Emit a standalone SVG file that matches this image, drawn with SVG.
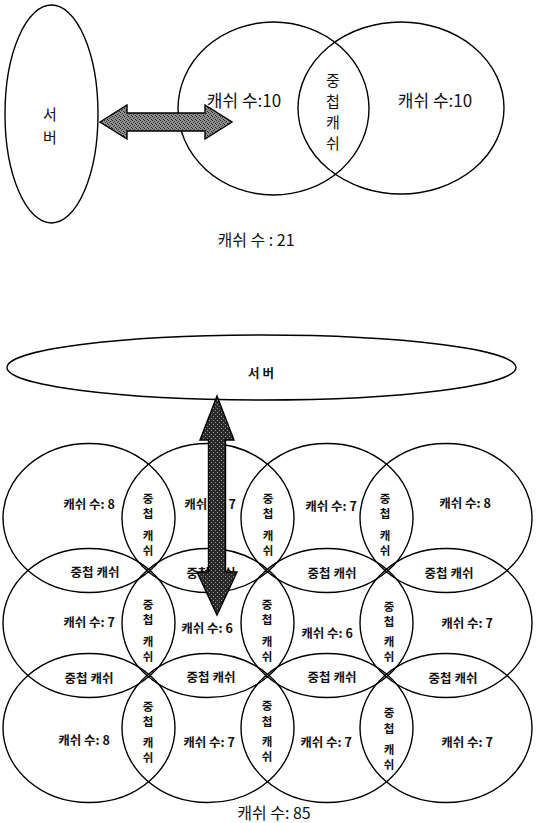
<svg xmlns="http://www.w3.org/2000/svg" width="536" height="823" viewBox="0 0 536 823">
<style>
.sh{fill:none;stroke:#000;stroke-width:1.4}
.t{font-family:"Noto Sans CJK KR","Noto Sans",sans-serif;fill:#111;text-anchor:middle}
.big{font-size:17px}
.bv{font-size:15px}
.sm{font-size:12.5px;font-weight:bold}
.vt{font-size:11.5px;font-weight:bold}
.tot{font-size:16px}
.ar{stroke:#000;stroke-width:1.4;stroke-linejoin:miter}
</style>
<defs>
<pattern id="stipA" width="4" height="4" patternUnits="userSpaceOnUse">
<rect width="4" height="4" fill="#8e8e8e"/>
<rect x="0" y="0" width="1" height="1" fill="#222"/>
<rect x="2" y="1" width="1" height="1" fill="#333"/>
<rect x="1" y="2" width="1" height="1" fill="#444"/>
<rect x="3" y="3" width="1" height="1" fill="#222"/>
</pattern>
<pattern id="stipB" width="4" height="4" patternUnits="userSpaceOnUse">
<rect width="4" height="4" fill="#2a2a2a"/>
<rect x="1" y="0" width="1" height="1" fill="#999"/>
<rect x="3" y="2" width="1" height="1" fill="#888"/>
</pattern>
</defs>

<!-- Top diagram -->
<g id="server1">
<ellipse class="sh" cx="51.5" cy="114" rx="46.5" ry="109"/>
<text class="t bv" x="50" y="120">서</text>
<text class="t bv" x="50" y="143">버</text>
</g>
<g id="cacheA">
<ellipse class="sh" cx="273.5" cy="108.5" rx="95.5" ry="86.5"/>
<text class="t big" x="244" y="106.5">캐쉬 수:10</text>
</g>
<g id="cacheB">
<ellipse class="sh" cx="401" cy="108" rx="103" ry="86"/>
<text class="t big" x="435" y="106.5">캐쉬 수:10</text>
</g>
<g id="overlap1">
<text class="t bv" x="333" y="86">중</text>
<text class="t bv" x="333" y="107">첩</text>
<text class="t bv" x="333" y="128">캐</text>
<text class="t bv" x="333" y="149">쉬</text>
</g>
<g id="total1">
<text class="t tot" x="256" y="246">캐쉬 수 : 21</text>
</g>

<!-- Bottom diagram -->
<g id="server2">
<ellipse class="sh" cx="261.5" cy="367.5" rx="254.5" ry="32.5"/>
<text class="t sm" x="261" y="378">서 버</text>
</g>

<g id="grid">
<ellipse id="c11" class="sh" cx="89" cy="518" rx="86" ry="74.5"/>
<ellipse id="c12" class="sh" cx="208" cy="518" rx="86" ry="74.5"/>
<ellipse id="c13" class="sh" cx="327" cy="518" rx="86" ry="74.5"/>
<ellipse id="c14" class="sh" cx="446" cy="518" rx="86" ry="74.5"/>
<ellipse id="c21" class="sh" cx="89" cy="623" rx="86" ry="74.5"/>
<ellipse id="c22" class="sh" cx="208" cy="623" rx="86" ry="74.5"/>
<ellipse id="c23" class="sh" cx="327" cy="623" rx="86" ry="74.5"/>
<ellipse id="c24" class="sh" cx="446" cy="623" rx="86" ry="74.5"/>
<ellipse id="c31" class="sh" cx="89" cy="728" rx="86" ry="74.5"/>
<ellipse id="c32" class="sh" cx="208" cy="728" rx="86" ry="74.5"/>
<ellipse id="c33" class="sh" cx="327" cy="728" rx="86" ry="74.5"/>
<ellipse id="c34" class="sh" cx="446" cy="728" rx="86" ry="74.5"/>
</g>

<g id="cell-labels">
<text class="t sm" x="89" y="509">캐쉬 수: 8</text>
<text class="t sm" x="210" y="509">캐쉬 수: 7</text>
<text class="t sm" x="331" y="511">캐쉬 수: 7</text>
<text class="t sm" x="465" y="508">캐쉬 수: 8</text>
<text class="t sm" x="89" y="627">캐쉬 수: 7</text>
<text class="t sm" x="207" y="633">캐쉬 수: 6</text>
<text class="t sm" x="327" y="638">캐쉬 수: 6</text>
<text class="t sm" x="467" y="628">캐쉬 수: 7</text>
<text class="t sm" x="84" y="745">캐쉬 수: 8</text>
<text class="t sm" x="209" y="747">캐쉬 수: 7</text>
<text class="t sm" x="326" y="747">캐쉬 수: 7</text>
<text class="t sm" x="467" y="747">캐쉬 수: 7</text>
</g>

<g id="h-overlaps">
<text class="t sm" x="95" y="577">중첩 캐쉬</text>
<text class="t sm" x="211" y="578">중첩 캐쉬</text>
<text class="t sm" x="332" y="578">중첩 캐쉬</text>
<text class="t sm" x="449" y="578">중첩 캐쉬</text>
<text class="t sm" x="89" y="683">중첩 캐쉬</text>
<text class="t sm" x="211" y="682">중첩 캐쉬</text>
<text class="t sm" x="332" y="682">중첩 캐쉬</text>
<text class="t sm" x="453" y="683">중첩 캐쉬</text>
</g>

<g id="v-overlaps">
<g id="v11"><text class="t vt" x="148" y="503">중</text><text class="t vt" x="148" y="518">첩</text><text class="t vt" x="148" y="540">캐</text><text class="t vt" x="148" y="555">쉬</text></g>
<g id="v12"><text class="t vt" x="268" y="503">중</text><text class="t vt" x="268" y="518">첩</text><text class="t vt" x="268" y="540">캐</text><text class="t vt" x="268" y="555">쉬</text></g>
<g id="v13"><text class="t vt" x="385" y="503">중</text><text class="t vt" x="385" y="518">첩</text><text class="t vt" x="385" y="540">캐</text><text class="t vt" x="385" y="555">쉬</text></g>
<g id="v21"><text class="t vt" x="148" y="609">중</text><text class="t vt" x="148" y="624">첩</text><text class="t vt" x="148" y="646">캐</text><text class="t vt" x="148" y="661">쉬</text></g>
<g id="v22"><text class="t vt" x="267" y="609">중</text><text class="t vt" x="267" y="624">첩</text><text class="t vt" x="267" y="646">캐</text><text class="t vt" x="267" y="661">쉬</text></g>
<g id="v23"><text class="t vt" x="389" y="611">중</text><text class="t vt" x="389" y="626">첩</text><text class="t vt" x="389" y="646">캐</text><text class="t vt" x="389" y="661">쉬</text></g>
<g id="v31"><text class="t vt" x="148" y="711">중</text><text class="t vt" x="148" y="726">첩</text><text class="t vt" x="148" y="747">캐</text><text class="t vt" x="148" y="762">쉬</text></g>
<g id="v32"><text class="t vt" x="267" y="710">중</text><text class="t vt" x="267" y="726">첩</text><text class="t vt" x="267" y="746">캐</text><text class="t vt" x="267" y="761">쉬</text></g>
<g id="v33"><text class="t vt" x="389" y="717">중</text><text class="t vt" x="389" y="733">첩</text><text class="t vt" x="389" y="754">캐</text><text class="t vt" x="389" y="769">쉬</text></g>
</g>

<g id="total2">
<text class="t tot" x="274" y="819">캐쉬 수: 85</text>
</g>

<g id="connectors">
<polygon class="ar" fill="url(#stipA)" points="100,122 127,105 127,113 205,113 205,105 232,122 205,139 205,131 127,131 127,139"/>
<polygon class="ar" fill="url(#stipB)" points="217,396 234,440 225.5,440 225.5,572 237,572 217,615 197,572 208.5,572 208.5,440 200,440"/>
</g>
</svg>
